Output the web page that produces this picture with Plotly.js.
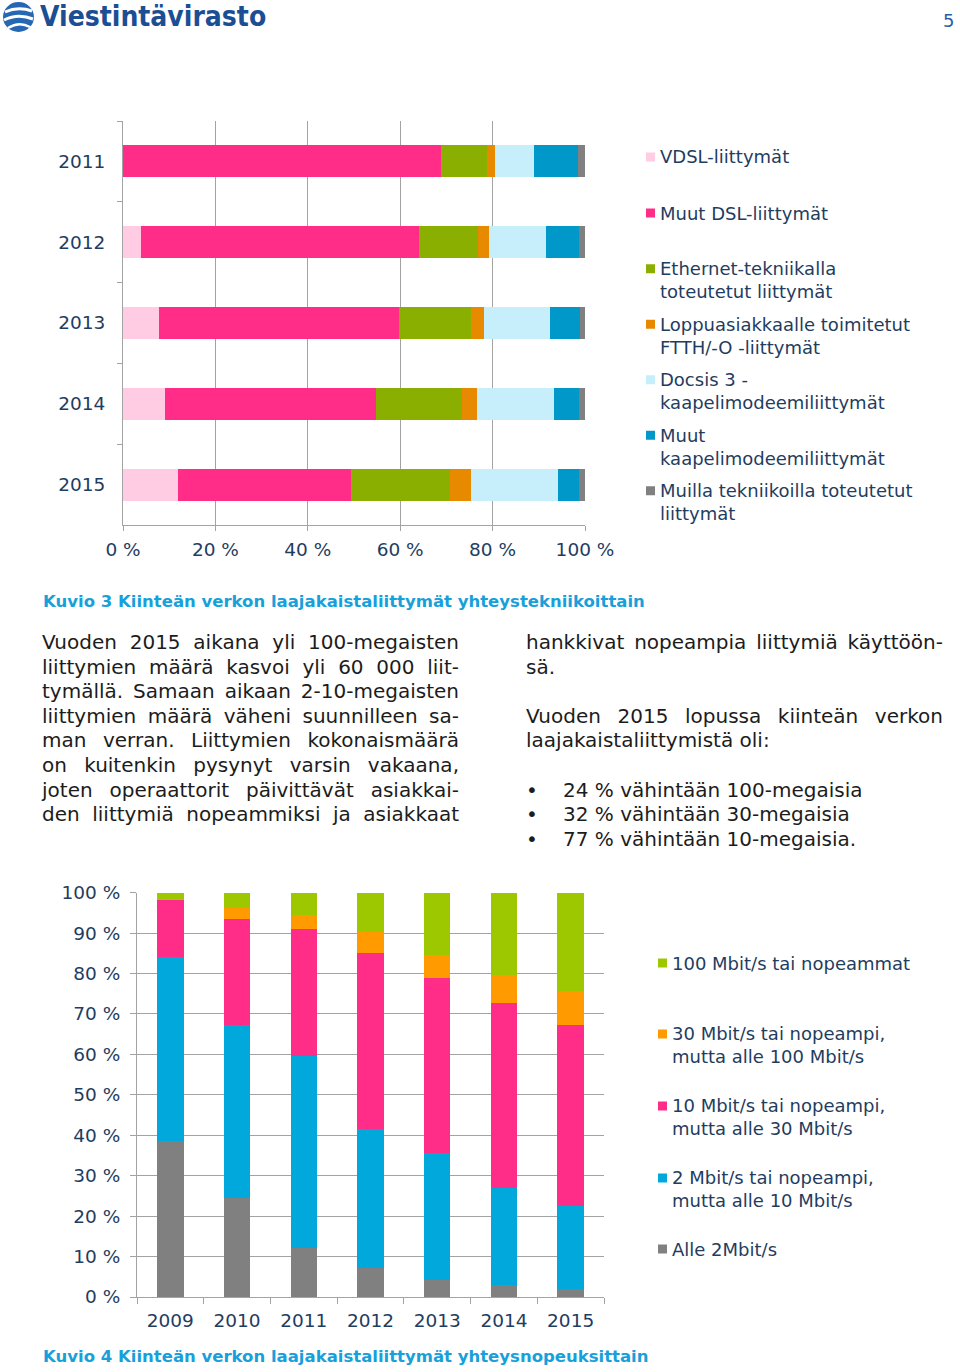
<!DOCTYPE html>
<html><head><meta charset="utf-8">
<script src="https://cdn.plot.ly/plotly-3.0.1.min.js"></script>
<style>
html,body{margin:0;padding:0;background:#fff;}
#wrap{position:relative;width:960px;height:1372px;overflow:hidden;background:#fff;}
#chart{position:absolute;left:0;top:0;width:960px;height:1372px;}
.txt{position:absolute;font-family:"DejaVu Sans",Verdana,sans-serif;font-size:20px;color:#1c1c1c;}
.ln{height:24.6px;line-height:24.6px;white-space:nowrap;}
.bul{position:relative;padding-left:37px;}
.bul:before{content:"•";position:absolute;left:0;}
</style></head>
<body><div id="wrap"><div id="chart"></div>
<div class="txt" style="left:42px;top:630px;width:417px;">
<div class="ln j">Vuoden 2015 aikana yli 100-megaisten</div>
<div class="ln j">liittymien määrä kasvoi yli 60 000 liit-</div>
<div class="ln j">tymällä. Samaan aikaan 2-10-megaisten</div>
<div class="ln j">liittymien määrä väheni suunnilleen sa-</div>
<div class="ln j">man verran. Liittymien kokonaismäärä</div>
<div class="ln j">on kuitenkin pysynyt varsin vakaana,</div>
<div class="ln j">joten operaattorit päivittävät asiakkai-</div>
<div class="ln j">den liittymiä nopeammiksi ja asiakkaat</div>
</div>
<div class="txt" style="left:526px;top:630px;width:417px;">
<div class="ln j">hankkivat nopeampia liittymiä käyttöön-</div>
<div class="ln">sä.</div>
<div class="ln"></div>
<div class="ln j">Vuoden 2015 lopussa kiinteän verkon</div>
<div class="ln">laajakaistaliittymistä oli:</div>
<div class="ln"></div>
<div class="ln bul">24 % vähintään 100-megaisia</div>
<div class="ln bul">32 % vähintään 30-megaisia</div>
<div class="ln bul">77 % vähintään 10-megaisia.</div>
</div>
</div>
<script>
// ---------- Data: Kuvio 3 ----------
const techYears = ['2011', '2012', '2013', '2014', '2015'];
const techNames = ['VDSL-liittymät', 'Muut DSL-liittymät', 'Ethernet-tekniikalla<br>toteutetut liittymät',
  'Loppuasiakkaalle toimitetut<br>FTTH/-O -liittymät', 'Docsis 3 -<br>kaapelimodeemiliittymät',
  'Muut<br>kaapelimodeemiliittymät', 'Muilla tekniikoilla toteutetut<br>liittymät'];
const vdsl = [0, 3.8, 7.8, 9.0, 11.8];
const muutDsl = [68.8, 60.2, 52.0, 45.7, 37.5];
const ethernet = [10.0, 12.9, 15.6, 18.6, 21.5];
const ftth = [1.8, 2.3, 2.7, 3.4, 4.6];
const docsis = [8.4, 12.3, 14.4, 16.6, 18.8];
const muutKaapeli = [9.4, 7.1, 6.5, 5.5, 4.6];
const muilla = [1.6, 1.4, 1.0, 1.2, 1.2];
const xTicks1 = [0, 20, 40, 60, 80, 100];
const xTickText1 = ['0 %', '20 %', '40 %', '60 %', '80 %', '100 %'];

// ---------- Data: Kuvio 4 ----------
const speedYears = ['2009', '2010', '2011', '2012', '2013', '2014', '2015'];
const speedNames = ['Alle 2Mbit/s', '2 Mbit/s tai nopeampi,<br>mutta alle 10 Mbit/s',
  '10 Mbit/s tai nopeampi,<br>mutta alle 30 Mbit/s', '30 Mbit/s tai nopeampi,<br>mutta alle 100 Mbit/s',
  '100 Mbit/s tai nopeammat'];
const alle2 = [38.5, 24.5, 12.2, 7.1, 4.2, 2.9, 2.0];
const mb2to10 = [45.6, 42.9, 47.3, 34.5, 31.3, 24.1, 20.6];
const mb10to30 = [14.0, 26.1, 31.6, 43.6, 43.5, 45.6, 44.8];
const mb30to100 = [0.3, 2.7, 3.5, 5.2, 5.5, 7.0, 8.3];
const mb100 = [1.6, 3.8, 5.4, 9.6, 15.5, 20.4, 24.3];
const yTicks2 = [0, 10, 20, 30, 40, 50, 60, 70, 80, 90, 100];
const yTickText2 = ['0 %', '10 %', '20 %', '30 %', '40 %', '50 %', '60 %', '70 %', '80 %', '90 %', '100 %'];

const caption1 = 'Kuvio 3 Kiinteän verkon laajakaistaliittymät yhteystekniikoittain';
const caption2 = 'Kuvio 4 Kiinteän verkon laajakaistaliittymät yhteysnopeuksittain';

// ---------- Styles ----------
const W = 960, H = 1372;
const px = x => x / W, py = y => 1 - y / H;
const FONT = '"DejaVu Sans", Verdana, sans-serif';
const NAVY = '#1f3d60';
const GRID = '#a3a3a3';
const techColors = ['#FFCCE4', '#FF2D87', '#8BAF00', '#E88A00', '#C6EFFB', '#0098C8', '#808080'];
const speedColors = ['#808080', '#00A8DC', '#FF2D87', '#FF9A00', '#9DC800'];

const techSeries = [vdsl, muutDsl, ethernet, ftth, docsis, muutKaapeli, muilla];
const speedSeries = [alle2, mb2to10, mb10to30, mb30to100, mb100];

const traces = [];
techSeries.forEach((vals, i) => traces.push({
  type: 'bar', orientation: 'h', y: techYears, x: vals, name: techNames[i].replace(/<br>/g, ' '),
  xaxis: 'x', yaxis: 'y', marker: {color: techColors[i], line: {width: 0}}, showlegend: false,
  hoverinfo: 'x+name'
}));
speedSeries.forEach((vals, i) => traces.push({
  type: 'bar', x: speedYears, y: vals, name: speedNames[i].replace(/<br>/g, ' '),
  xaxis: 'x2', yaxis: 'y2', marker: {color: speedColors[i], line: {width: 0}}, showlegend: false,
  hoverinfo: 'y+name'
}));

const shapes = [], annotations = [];

// Legend 1 (manual, close swatches like the original)
const leg1Y = [157, 213, 280, 335.5, 391, 446.5, 502];
techNames.forEach((n, i) => {
  const y = leg1Y[i];
  const nLines = n.split('<br>').length;
  const firstY = nLines > 1 ? y - 11.25 : y;
  shapes.push({type: 'rect', xref: 'paper', yref: 'paper', x0: px(646), x1: px(655),
    y0: py(firstY + 4.5), y1: py(firstY - 4.5), fillcolor: techColors[i], line: {width: 0}});
  annotations.push({xref: 'paper', yref: 'paper', x: px(658), y: py(y), xanchor: 'left', yanchor: 'middle',
    text: n, showarrow: false, align: 'left', font: {family: FONT, size: 18, color: NAVY}});
});
// Legend 2
const leg2Y = [963, 1045, 1117, 1189, 1249];
const legOrder = [4, 3, 2, 1, 0];
legOrder.forEach((si, k) => {
  const y = leg2Y[k];
  const n = speedNames[si];
  const nLines = n.split('<br>').length;
  const firstY = nLines > 1 ? y - 11 : y;
  shapes.push({type: 'rect', xref: 'paper', yref: 'paper', x0: px(658), x1: px(667),
    y0: py(firstY + 4.5), y1: py(firstY - 4.5), fillcolor: speedColors[si], line: {width: 0}});
  annotations.push({xref: 'paper', yref: 'paper', x: px(670), y: py(y), xanchor: 'left', yanchor: 'middle',
    text: n, showarrow: false, align: 'left', font: {family: FONT, size: 18, color: NAVY}});
});

// Captions
annotations.push({xref: 'paper', yref: 'paper', x: px(41), y: py(601), xanchor: 'left', yanchor: 'middle',
  text: '<b>' + caption1 + '</b>', showarrow: false, font: {family: FONT, size: 16.5, color: '#18A0DA'}});
annotations.push({xref: 'paper', yref: 'paper', x: px(41), y: py(1356), xanchor: 'left', yanchor: 'middle',
  text: '<b>' + caption2 + '</b>', showarrow: false, font: {family: FONT, size: 16.5, color: '#18A0DA'}});

// Header: logo + page number
shapes.push({type: 'circle', xref: 'paper', yref: 'paper', x0: px(3), x1: px(34), y0: py(32), y1: py(2),
  fillcolor: '#2667B3', line: {width: 0}});
shapes.push({type: 'path', xref: 'paper', yref: 'paper', path: 'M' + px(5) + ',' + py(12) + ' Q' + px(18) + ',' + py(6) + ' ' + px(32) + ',' + py(11),
  line: {color: '#ffffff', width: 3}});
shapes.push({type: 'path', xref: 'paper', yref: 'paper', path: 'M' + px(4) + ',' + py(20) + ' Q' + px(18) + ',' + py(13) + ' ' + px(33) + ',' + py(19),
  line: {color: '#ffffff', width: 3}});
shapes.push({type: 'path', xref: 'paper', yref: 'paper', path: 'M' + px(8) + ',' + py(28) + ' Q' + px(19) + ',' + py(21) + ' ' + px(30) + ',' + py(27),
  line: {color: '#ffffff', width: 2.5}});
annotations.push({xref: 'paper', yref: 'paper', x: px(38), y: py(17), xanchor: 'left', yanchor: 'middle',
  text: '<b>Viestintävirasto</b>', showarrow: false,
  font: {family: '"DejaVu Sans Condensed", "DejaVu Sans", sans-serif', size: 28, color: '#1B4E93'}});
annotations.push({xref: 'paper', yref: 'paper', x: px(956), y: py(21), xanchor: 'right', yanchor: 'middle',
  text: '5', showarrow: false, font: {family: FONT, size: 18, color: '#2a5d9f'}});

const layout = {
  width: W, height: H, margin: {l: 0, r: 0, t: 0, b: 0}, paper_bgcolor: '#fff', plot_bgcolor: 'rgba(0,0,0,0)',
  font: {family: FONT, color: NAVY}, barmode: 'stack', bargap: 0.605, showlegend: false,
  xaxis: {domain: [px(123), px(585)], anchor: 'y', range: [0, 100], tickmode: 'array', tickvals: xTicks1, ticktext: xTickText1,
    showgrid: true, gridcolor: GRID, gridwidth: 1, zeroline: false, showline: true, linecolor: GRID,
    ticks: 'outside', ticklen: 5, tickcolor: GRID, ticklabelstandoff: 3,
    tickfont: {family: FONT, size: 18.5, color: NAVY}, fixedrange: true},
  yaxis: {domain: [py(525), py(121)], anchor: 'x', type: 'category', categoryorder: 'array',
    categoryarray: techYears, autorange: 'reversed', tickson: 'boundaries', ticks: 'outside', ticklen: 5,
    tickcolor: GRID, showline: true, linecolor: GRID, showgrid: false, zeroline: false, ticklabelstandoff: 13,
    tickfont: {family: FONT, size: 18.5, color: NAVY}, fixedrange: true},
  xaxis2: {domain: [px(137), px(604)], anchor: 'y2', type: 'category', categoryorder: 'array',
    categoryarray: speedYears, tickson: 'boundaries', ticks: 'outside', ticklen: 6, tickcolor: GRID,
    showline: true, linecolor: GRID, showgrid: false, ticklabelstandoff: 7,
    tickfont: {family: FONT, size: 18.5, color: NAVY}, fixedrange: true},
  yaxis2: {domain: [py(1297), py(892.7)], anchor: 'x2', range: [0, 100], tickmode: 'array', tickvals: yTicks2, ticktext: yTickText2,
    showgrid: true, gridcolor: GRID, gridwidth: 1, zeroline: false, showline: true, linecolor: GRID,
    ticks: 'outside', ticklen: 6, tickcolor: GRID, ticklabelstandoff: 6,
    tickfont: {family: FONT, size: 18.5, color: NAVY}, fixedrange: true},
  shapes: shapes, annotations: annotations
};

Plotly.newPlot('chart', traces, layout, {displayModeBar: false, staticPlot: true});

// Justify body lines to the column width by adjusting word spacing
document.querySelectorAll('.ln.j').forEach(el => {
  const target = el.parentElement.clientWidth;
  const span = document.createElement('span');
  span.textContent = el.textContent;
  el.textContent = '';
  el.appendChild(span);
  const natural = span.getBoundingClientRect().width;
  const spaces = (span.textContent.match(/ /g) || []).length;
  if (spaces > 0) el.style.wordSpacing = ((target - natural) / spaces) + 'px';
});
</script>
</body></html>
